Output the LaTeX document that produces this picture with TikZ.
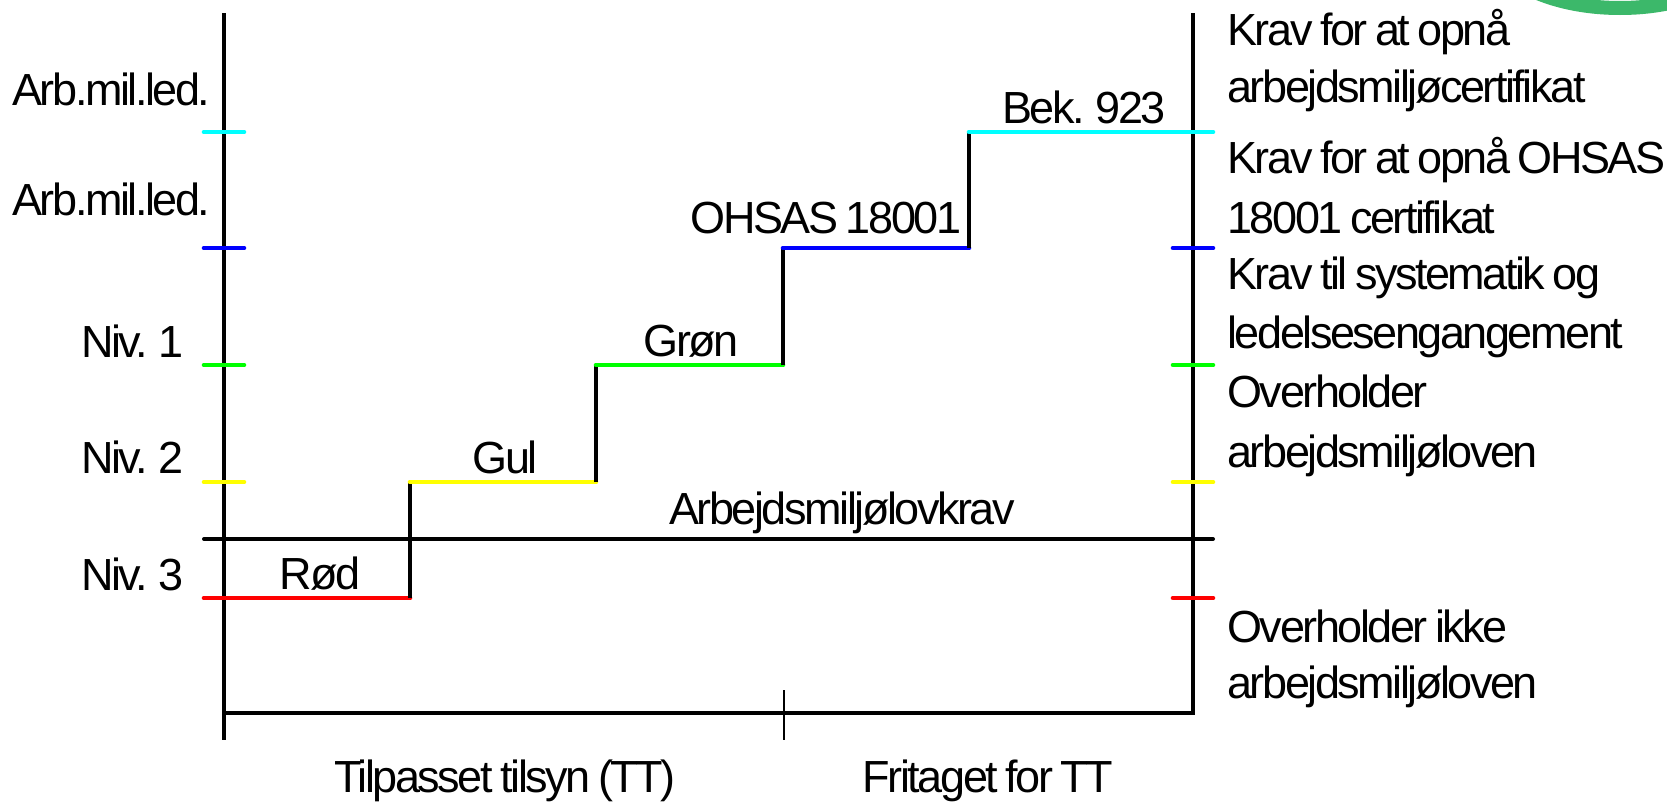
\documentclass[tikz,border=0pt]{standalone}
\usepackage{fontspec}
\newfontfamily\lab[LetterSpace=-5.5,WordSpace=0.75]{Liberation Sans}
\definecolor{lvcyan}{RGB}{0,255,255}
\definecolor{lvblue}{RGB}{0,0,255}
\definecolor{lvgreen}{RGB}{0,255,0}
\definecolor{lvyellow}{RGB}{255,255,0}
\definecolor{lvred}{RGB}{255,0,0}
\definecolor{arcgreen}{RGB}{60,184,106}
\begin{document}
\begin{tikzpicture}[x=0.5pt,y=-0.5pt,
  axis/.style={line width=1.7pt},
  lvl/.style={line width=2.3pt, line cap=round},
  riser/.style={line width=1.6pt},
  midtick/.style={line width=1.2pt},
  lbl/.style={font=\lab\fontsize{22.5}{26}\selectfont, inner sep=0pt},
]
\useasboundingbox (0,0) rectangle (1667,803);
\fill[white] (0,0) rectangle (1667,803);
% green arc in the corner
\begin{scope}
\clip (0,0) rectangle (1667,803);
\draw[line width=7pt, arcgreen] (1620,-57) ellipse [x radius=129, y radius=65];
\end{scope}
% axes
\coordinate (Ltop) at (224,13);
\coordinate (Lbot) at (224,740);
\coordinate (Rtop) at (1193,13);
\coordinate (Rbot) at (1193,713);
\coordinate (Bl) at (224,713);
\coordinate (Mt) at (784,690);
\coordinate (Mb) at (784,740);
\draw[axis] (Ltop) -- (Lbot);
\draw[axis, line width=2pt, line join=miter] (Rtop) -- (Rbot) -- (Bl);
\draw[midtick] (Mt) -- (Mb);
% law line
\coordinate (Kl) at (204,539);
\coordinate (Kr) at (1213,539);
\draw[line width=2pt, line cap=round] (Kl) -- (Kr);
% left ticks
\draw[lvl, lvcyan] (204,132) -- (244,132);
\draw[lvl, lvblue] (204,248) -- (244,248);
\draw[lvl, lvgreen] (204,365) -- (244,365);
\draw[lvl, lvyellow] (204,482) -- (244,482);
% right ticks
\draw[lvl, lvblue] (1173,248) -- (1213,248);
\draw[lvl, lvgreen] (1173,365) -- (1213,365);
\draw[lvl, lvyellow] (1173,482) -- (1213,482);
\draw[lvl, lvred] (1173,598) -- (1213,598);
% staircase
\coordinate (s0) at (204,598);
\coordinate (s1) at (410,598);
\coordinate (s2) at (410,482);
\coordinate (s3) at (596,482);
\coordinate (s4) at (596,365);
\coordinate (s5) at (783,365);
\coordinate (s6) at (783,248);
\coordinate (s7) at (969,248);
\coordinate (s8) at (969,132);
\coordinate (s9) at (1213,132);
\draw[lvl, lvred] (s0) -- (s1);
\draw[riser] (s1) -- (s2);
\draw[lvl, lvyellow] (s2) -- (s3);
\draw[riser] (s3) -- (s4);
\draw[lvl, lvgreen] (s4) -- (s5);
\draw[riser] (s5) -- (s6);
\draw[lvl, lvblue] (s6) -- (s7);
\draw[riser] (s7) -- (s8);
\draw[lvl, lvcyan] (s8) -- (s9);
% left labels
\node[lbl, anchor=base west] (a1) at (12,105) {Arb.mil.led.};
\node[lbl, anchor=base west] (a2) at (12,215) {Arb.mil.led.};
\node[lbl, anchor=base west] (n1) at (81,357) {Niv. 1};
\node[lbl, anchor=base west] (n2) at (81,473) {Niv. 2};
\node[lbl, anchor=base west] (n3) at (81,590) {Niv. 3};
% step labels
\node[lbl, anchor=base] (rod) at (320,589) {Rød};
\node[lbl, anchor=base] (gul) at (505,473) {Gul};
\node[lbl, anchor=base] (gron) at (691,356) {Grøn};
\node[lbl, anchor=base] (ohsas) at (826,233) {OHSAS 18001};
\node[lbl, anchor=base] (bek) at (1084,123) {Bek. 923};
\node[lbl, anchor=base] (amk) at (842,524) {Arbejdsmiljølovkrav};
% bottom labels
\node[lbl, anchor=base] (tt) at (505,792) {Tilpasset tilsyn (TT)};
\node[lbl, anchor=base] (ft) at (988,792) {Fritaget for TT};
% right labels
\node[lbl, anchor=base west] (r1) at (1227,46) {Krav for at opnå};
\node[lbl, anchor=base west] (r2) at (1227,102) {arbejdsmiljøcertifikat};
\node[lbl, anchor=base west] (r3) at (1227,173) {Krav for at opnå OHSAS};
\node[lbl, anchor=base west] (r4) at (1227,233) {18001 certifikat};
\node[lbl, anchor=base west] (r5) at (1227,289) {Krav til systematik og};
\node[lbl, anchor=base west] (r6) at (1227,348) {ledelsesengangement};
\node[lbl, anchor=base west] (r7) at (1227,407) {Overholder};
\node[lbl, anchor=base west] (r8) at (1227,467) {arbejdsmiljøloven};
\node[lbl, anchor=base west] (r9) at (1227,642) {Overholder ikke};
\node[lbl, anchor=base west] (r10) at (1227,698) {arbejdsmiljøloven};
\end{tikzpicture}
\end{document}
